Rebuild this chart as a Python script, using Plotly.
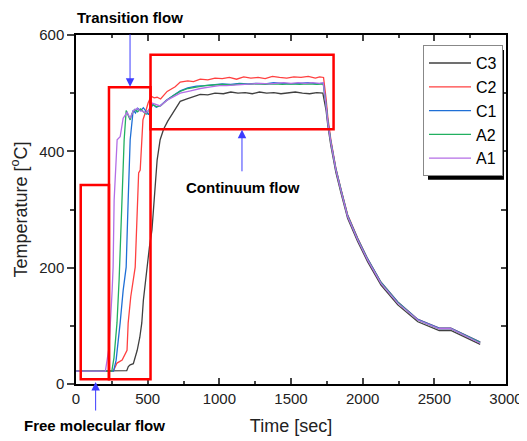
import plotly.graph_objects as go

# ---------------- data ----------------
cool_t = [1745, 1757, 1778, 1799, 1813, 1848, 1895, 1965, 2035, 2128, 2245, 2385, 2534, 2615, 2720, 2820]

c3_time = [0, 200, 354, 365, 378, 400, 427, 445, 459, 470, 483, 495, 512, 530, 545, 566, 587, 611,
           640, 670, 700, 727, 774, 820, 867, 920, 970, 1028, 1080, 1130, 1180, 1230, 1280, 1330,
           1380, 1430, 1480, 1530, 1580, 1630, 1680, 1722] + cool_t
c3_temp = [22, 22, 23, 30, 33, 35, 58, 80, 105, 144, 175, 201, 235, 265, 316, 385, 420, 438,
           452, 464, 476, 486, 490, 494, 498, 497, 500, 499, 502, 500, 501, 499, 502, 500,
           501, 499, 500, 502, 500, 499, 501, 500] + \
          [470, 444, 410, 382, 364, 329, 285, 245, 210, 170, 136, 107, 92, 92, 80, 68]

c2_time = [0, 260, 275, 286, 322, 356, 364, 382, 413, 430, 437, 448, 460, 467, 483, 503, 524, 545,
           566, 590, 636, 692, 727, 780, 820, 867, 920, 970, 1020, 1070, 1120, 1170, 1220, 1270,
           1320, 1370, 1420, 1470, 1520, 1570, 1620, 1670, 1700, 1727] + cool_t
c2_temp = [22, 22, 30, 36, 41, 58, 105, 150, 201, 316, 363, 368, 420, 454, 466, 483, 495, 492,
           493, 490, 503, 511, 519, 521, 520, 524, 523, 526, 525, 527, 524, 528, 526, 527,
           525, 529, 527, 526, 528, 527, 529, 526, 528, 527] + \
          [490, 458, 420, 390, 371, 336, 291, 251, 215, 175, 141, 111, 96, 96, 84, 72]

c1_time = [0, 262, 280, 295, 308, 329, 350, 364, 378, 399, 415, 430, 450, 470, 490, 505, 520, 535,
           560, 590, 630, 680, 727, 780, 840, 900, 960, 1020, 1080, 1140, 1200, 1260, 1320, 1380,
           1440, 1500, 1560, 1620, 1680, 1725] + cool_t
c1_temp = [22, 22, 41, 70, 105, 161, 201, 316, 420, 471, 466, 474, 470, 475, 467, 463, 472, 481,
           476, 479, 488, 497, 504, 509, 512, 513, 515, 516, 515, 517, 516, 517, 516, 518,
           517, 516, 517, 518, 516, 517] + \
          [481, 452, 417, 388, 370, 335, 290, 250, 215, 175, 141, 111, 96, 96, 84, 72]

a2_time = [0, 250, 265, 286, 301, 322, 336, 350, 365, 378, 390, 410, 430, 450, 470, 490, 505, 520,
           538, 560, 590, 630, 680, 727, 780, 840, 900, 960, 1020, 1080, 1140, 1200, 1260, 1320,
           1380, 1440, 1500, 1560, 1620, 1680, 1725] + cool_t
a2_temp = [22, 22, 45, 105, 180, 316, 420, 470, 462, 454, 465, 472, 468, 473, 468, 464, 470, 476,
           480, 477, 478, 487, 496, 503, 508, 511, 513, 514, 515, 514, 516, 515, 516, 515,
           516, 515, 516, 515, 516, 515, 516] + \
          [479, 450, 416, 387, 369, 334, 289, 249, 214, 174, 140, 110, 95, 95, 83, 71]

a1_time = [0, 205, 217, 230, 252, 259, 266, 287, 308, 329, 357, 378, 400, 427, 445, 462, 490, 517,
           531, 560, 587, 636, 680, 727, 800, 867, 940, 1000, 1050, 1100, 1150, 1200, 1287, 1350,
           1400, 1450, 1500, 1550, 1600, 1650, 1700, 1725] + cool_t
a1_temp = [22, 22, 41, 62, 160, 201, 316, 420, 425, 457, 467, 457, 470, 474, 470, 469, 466, 474,
           483, 480, 478, 488, 494, 500, 504, 508, 511, 513, 513, 514, 515, 516, 517, 516,
           517, 518, 517, 518, 517, 518, 517, 518] + \
          [478, 449, 415, 386, 368, 333, 288, 248, 213, 173, 139, 110, 95, 95, 82, 70]

series_names = ["C3", "C2", "C1", "A2", "A1"]
series_colors = ["#404040", "#ff4040", "#1f6fd6", "#22b060", "#b46ee6"]
series_x = [c3_time, c2_time, c1_time, a2_time, a1_time]
series_y = [c3_temp, c2_temp, c1_temp, a2_temp, a1_temp]

x_ticks = [0, 500, 1000, 1500, 2000, 2500, 3000]
y_ticks = [0, 200, 400, 600]

# regime boxes: (t0, t1, T0, T1)
regime_boxes = [(33, 230, 8, 342), (230, 520, 8, 510), (520, 1797, 438, 566)]

# ---------------- figure ----------------
FONT = "Liberation Sans, Arial, sans-serif"
fig = go.Figure()
for name, col, xs, ys in zip(series_names, series_colors, series_x, series_y):
    fig.add_trace(go.Scatter(x=xs, y=ys, mode="lines", name=name,
                             line=dict(color=col, width=1.3)))
# invisible trace for the right-hand axis (inside ticks)
fig.add_trace(go.Scatter(x=[], y=[], yaxis="y2", showlegend=False, hoverinfo="skip"))

for (x0, x1, y0, y1) in regime_boxes:
    fig.add_shape(type="rect", x0=x0, x1=x1, y0=y0, y1=y1, xref="x", yref="y",
                  line=dict(color="#ff0000", width=2.5), fillcolor="rgba(0,0,0,0)")

# legend shadow
fig.add_shape(type="rect", xref="paper", yref="paper", x0=0.8186, x1=0.9953, y0=0.585, y1=0.957,
              line=dict(width=0), fillcolor="black", layer="above")

arrow_col = "#3c3cff"
fig.add_annotation(x=377, y=511, xref="x", yref="y", ax=0, ay=-54, text="", showarrow=True,
                   arrowhead=2, arrowsize=1.7, arrowwidth=1, arrowcolor=arrow_col)
fig.add_annotation(x=1158, y=437, xref="x", yref="y", ax=0, ay=43, text="", showarrow=True,
                   arrowhead=2, arrowsize=1.7, arrowwidth=1, arrowcolor=arrow_col)
fig.add_annotation(x=137, y=3.4, xref="x", yref="y", ax=0, ay=30, text="", showarrow=True,
                   arrowhead=2, arrowsize=1.7, arrowwidth=1, arrowcolor=arrow_col)

label_font = dict(family=FONT, size=15, color="black")
for txt, px, py in [("<b>Transition flow</b>", 0.1256, 1.049),
                    ("<b>Continuum flow</b>", 0.388, 0.564),
                    ("<b>Free molecular flow</b>", 0.044, -0.120)]:
    fig.add_annotation(x=px, y=py, xref="paper", yref="paper", text=txt, showarrow=False,
                       xanchor="center", yanchor="middle", font=label_font)

# page has an 8px body margin, so the figure is 8px smaller and margins shifted
fig.update_layout(
    width=519, height=433,
    margin=dict(l=68, r=21, t=27, b=57, autoexpand=False),
    paper_bgcolor="white", plot_bgcolor="white",
    font=dict(family=FONT, color="#222"),
    showlegend=True,
    legend=dict(x=0.807, y=0.971, xanchor="left", yanchor="top", bgcolor="white",
                bordercolor="#888", borderwidth=1, font=dict(family=FONT, size=16, color="black"),
                itemwidth=42, tracegroupgap=0),
    xaxis=dict(range=[0, 3000], tickvals=x_ticks, ticks="inside", ticklen=6, tickwidth=1.5,
               showline=True, linewidth=1.5, linecolor="black", mirror="ticks", automargin=False,
               showgrid=False, zeroline=False, tickfont=dict(size=15, family=FONT, color="#222"),
               minor=dict(dtick=250, ticks="inside", ticklen=3, tickwidth=1.5, showgrid=False),
               title=dict(text="Time [sec]", font=dict(size=18, family=FONT, color="#222"), standoff=14)),
    yaxis=dict(range=[0, 600], tickvals=y_ticks, ticks="outside", ticklen=7, tickwidth=1.5,
               showline=True, linewidth=1.5, linecolor="black", mirror=True, automargin=False,
               showgrid=False, zeroline=False, tickfont=dict(size=15, family=FONT, color="#222"),
               minor=dict(dtick=100, ticks="outside", ticklen=4, tickwidth=1.5, showgrid=False),
               title=dict(text="Temperature [<sup>o</sup>C]", font=dict(size=18, family=FONT, color="#222"),
                          standoff=8)),
    yaxis2=dict(range=[0, 600], overlaying="y", side="right", dtick=100, ticks="inside", ticklen=5,
                tickwidth=1.5, showticklabels=False, showline=True, linewidth=1.5, linecolor="black",
                showgrid=False, zeroline=False, automargin=False),
)

fig.write_html("out.html")
